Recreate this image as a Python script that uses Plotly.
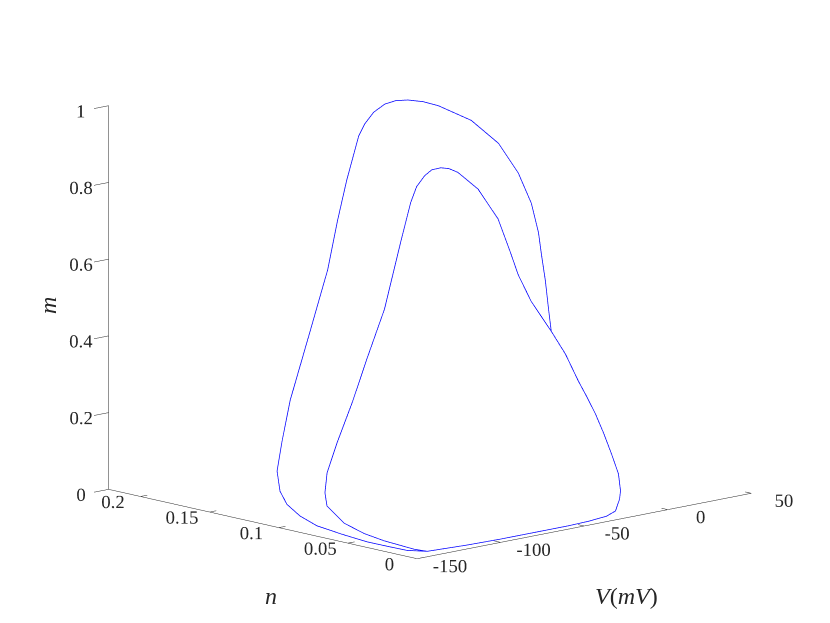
import plotly.graph_objects as go

# Shared subthreshold + upstroke path (bottom corner -> along V axis -> up the right side)
V_shared = [-137.3, -114.9, -95.8, -73.6, -55.5, -42.6, -30.1, -23.0, -18.9, -16.7,
            -14.6, -15.4, -16.1, -16.8, -18.0, -19.5, -21.5, -24.2]
n_shared = [0.008, 0.006, 0.005, 0.005, 0.005, 0.006, 0.008, 0.010, 0.012, 0.014,
            0.018, 0.022, 0.027, 0.032, 0.037, 0.041, 0.048, 0.055]
m_shared = [0.002, 0.001, 0.001, 0.001, 0.001, 0.001, 0.002, 0.008, 0.034, 0.052,
            0.091, 0.140, 0.192, 0.238, 0.281, 0.318, 0.385, 0.441]

# Large (outer) spike
V_outer = [-20.1, -15.3, -11.1, -7.0, -3.0, -2.5, -4.5, -11.7, -23.2, -28.9,
           -34.7, -39.4, -43.5, -47.7, -51.4, -54.2, -54.9, -58.1, -62.7, -68.7,
           -79.8, -95.2, -104.1, -113.8, -120.3, -126.9, -133.2, -139.6, -143.6, -146.9,
           -147.3, -145.2]
n_outer = [0.062, 0.070, 0.078, 0.085, 0.095, 0.105, 0.117, 0.128, 0.138, 0.142,
           0.146, 0.149, 0.152, 0.155, 0.157, 0.158, 0.160, 0.162, 0.163, 0.163,
           0.162, 0.158, 0.153, 0.145, 0.135, 0.122, 0.105, 0.085, 0.062, 0.040,
           0.025, 0.013]
m_outer = [0.492, 0.553, 0.613, 0.659, 0.724, 0.794, 0.864, 0.921, 0.961, 0.973,
           0.979, 0.979, 0.971, 0.951, 0.922, 0.892, 0.853, 0.776, 0.675, 0.550,
           0.404, 0.238, 0.145, 0.080, 0.041, 0.023, 0.012, 0.008, 0.008, 0.009,
           0.010, 0.007]

# Small (inner) spike
V_inner = [-32.0, -35.7, -36.4, -39.5, -47.3, -56.1, -60.2, -63.8, -68.0, -71.0,
           -75.0, -77.7, -82.1, -90.9, -101.1, -111.0, -121.7, -130.2, -134.8, -137.7,
           -139.1, -142.0, -144.9, -141.8]
n_inner = [0.060, 0.065, 0.070, 0.075, 0.080, 0.084, 0.0855, 0.087, 0.0885, 0.090,
           0.091, 0.092, 0.094, 0.095, 0.095, 0.094, 0.092, 0.089, 0.085, 0.080,
           0.066, 0.048, 0.030, 0.012]
m_inner = [0.521, 0.590, 0.647, 0.731, 0.811, 0.859, 0.871, 0.875, 0.872, 0.858,
           0.832, 0.792, 0.690, 0.523, 0.406, 0.298, 0.204, 0.135, 0.090, 0.062,
           0.030, 0.020, 0.018, 0.008]

V_ticks = [-150, -100, -50, 0, 50]
n_ticks = [0, 0.05, 0.1, 0.15, 0.2]
m_ticks = [0, 0.2, 0.4, 0.6, 0.8, 1]

V_range = [-150, 50]
n_range = [0, 0.223]
m_range = [0, 1]

V = V_shared + V_outer + V_shared + V_inner + V_shared[:1]
n = n_shared + n_outer + n_shared + n_inner + n_shared[:1]
m = m_shared + m_outer + m_shared + m_inner + m_shared[:1]

fig = go.Figure()
fig.add_trace(go.Scatter3d(x=V, y=n, z=m, mode="lines",
                           line=dict(color="rgb(0,0,255)", width=1.5),
                           hoverinfo="skip", showlegend=False))

# MATLAB-style inward tick marks on the V and n axes (derived from the tick lists)
dn = (n_range[1] - n_range[0]) * 0.02
dV = (V_range[1] - V_range[0]) * 0.02
tx, ty, tz = [], [], []
for v in V_ticks:
    tx += [v, v, None]; ty += [n_range[0], n_range[0] + dn, None]; tz += [m_range[0], m_range[0], None]
for q in n_ticks:
    tx += [V_range[0], V_range[0] + dV, None]; ty += [q, q, None]; tz += [m_range[0], m_range[0], None]
fig.add_trace(go.Scatter3d(x=tx, y=ty, z=tz, mode="lines",
                           line=dict(color="#262626", width=1),
                           hoverinfo="skip", showlegend=False))

tickfont = dict(family="Liberation Serif", size=15, color="#262626")
titlefont = dict(family="Liberation Serif", size=24, color="#262626")

def ax(rng, tv, ticklen, tickcolor):
    return dict(title=dict(text=""), range=rng, tickvals=tv,
                ticktext=[("%g" % t) for t in tv], tickfont=tickfont, tickangle=0,
                showbackground=False, showgrid=False, zeroline=False,
                showline=True, linecolor="#262626", linewidth=1,
                ticks="outside", ticklen=ticklen, tickcolor=tickcolor,
                showspikes=False, autorange=False)

fig.update_layout(
    width=830, height=623, paper_bgcolor="white", plot_bgcolor="white",
    margin=dict(l=0, r=0, t=0, b=0),
    scene=dict(
        domain=dict(x=[0.0294, 0.9884], y=[0.065, 1.0]),
        xaxis=ax(V_range, V_ticks, 20, "rgba(0,0,0,0)"),
        yaxis=ax(n_range, n_ticks, 30, "rgba(0,0,0,0)"),
        zaxis=ax(m_range, m_ticks, 10, "#262626"),
        aspectmode="manual", aspectratio=dict(x=1.568, y=1.551, z=1.346),
        camera=dict(eye=dict(x=-0.750, y=-0.804, z=0.236),
                    up=dict(x=0, y=0, z=1), center=dict(x=0, y=0, z=0),
                    projection=dict(type="orthographic")),
    ),
    annotations=[
        dict(text="<i>V</i>(<i>mV</i>)", x=618 / 830, y=1 - 588 / 623, xref="paper", yref="paper",
             showarrow=False, font=titlefont, xanchor="center", yanchor="middle"),
        dict(text="<i>n</i>", x=263 / 830, y=1 - 588 / 623, xref="paper", yref="paper",
             showarrow=False, font=titlefont, xanchor="center", yanchor="middle"),
        dict(text="<i>m</i>", x=40 / 830, y=1 - 298 / 623, xref="paper", yref="paper",
             showarrow=False, font=titlefont, textangle=-90, xanchor="center", yanchor="middle"),
    ],
)
fig.write_html("out.html")
